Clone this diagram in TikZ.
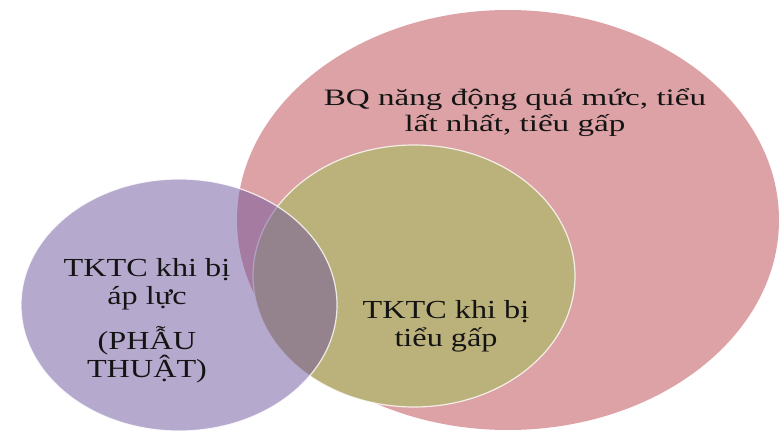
\documentclass[tikz,border=0pt]{standalone}
\usepackage{fontspec}
\setmainfont{Liberation Serif}
\definecolor{vennpink}{RGB}{220,162,165}
\definecolor{vennolive}{RGB}{187,178,123}
\definecolor{vennpurple}{RGB}{111,85,159}
\tikzset{
  venntext/.style={align=center, font=\fontsize{26}{28}\selectfont, text=black!92, xscale=1.24, inner sep=0pt},
  vennrim/.style={draw=white, draw opacity=0.8, line width=1.2pt}
}

\begin{document}
\begin{tikzpicture}[x=1pt, y=-1pt]
\useasboundingbox (0,0) rectangle (782,433);
\fill[white] (0,0) rectangle (782,433);
% the three sets
\path[fill=vennpink] (508,220) ellipse [x radius=271, y radius=210];
\path[fill=vennolive, vennrim] (414,276) ellipse [x radius=161, y radius=131];
\path[fill=vennpurple, fill opacity=0.5, vennrim] (179,305) ellipse [x radius=158, y radius=126];
% labels
\node[venntext, font=\fontsize{23.5}{26}\selectfont, xscale=1.41/1.24] (bq) at (515,113) {BQ năng động quá mức, tiểu\\lất nhất, tiểu gấp};
\node[venntext] (apluc) at (147,321) {TKTC khi bị\\áp lực\\[15pt](PHẪU\\THUẬT)};
\node[venntext] (tieugap) at (446,326) {TKTC khi bị\\tiểu gấp};
\end{tikzpicture}
\end{document}
